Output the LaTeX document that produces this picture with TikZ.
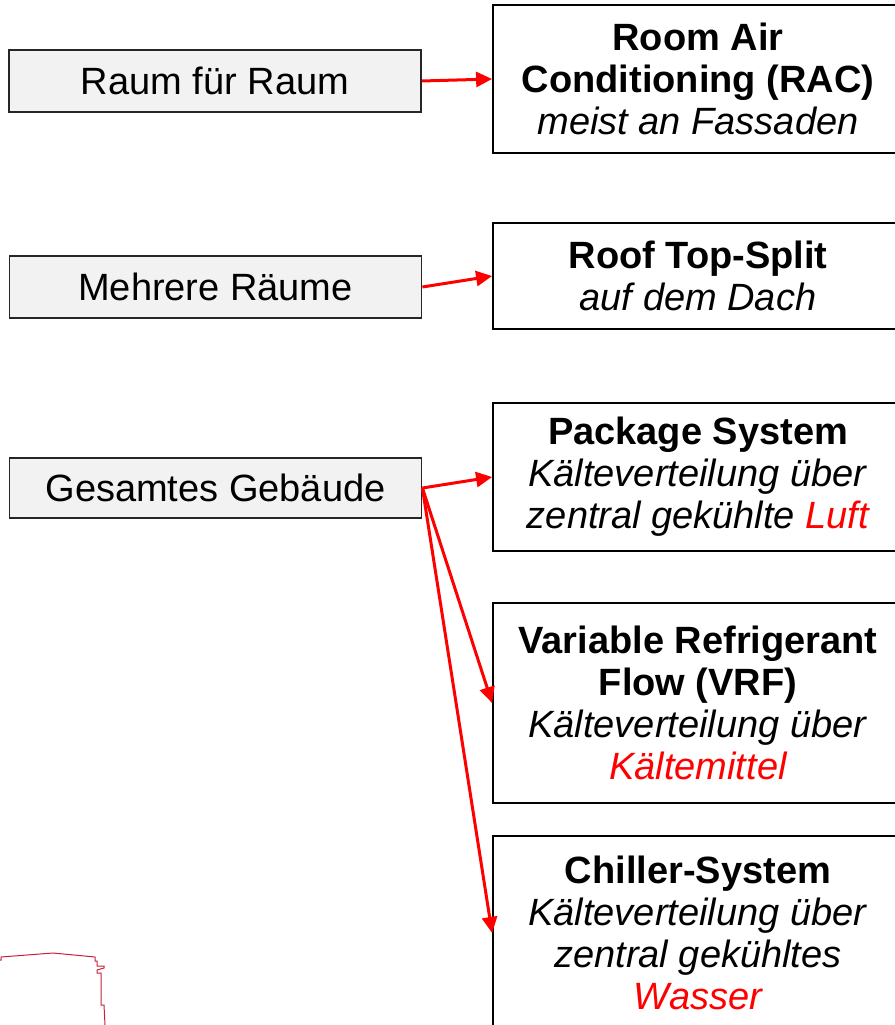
\documentclass[tikz,border=0pt]{standalone}
\usepackage{fontspec}
\setmainfont{Liberation Sans}
\usepackage{xcolor}
\usetikzlibrary{
  positioning,
  arrows.meta
}

\definecolor{boxgray}{HTML}{F2F2F2}
\definecolor{outlinered}{HTML}{C8203A}

\begin{document}
\begin{tikzpicture}[
  x=1pt, y=-1pt,
  font=\fontsize{38}{42}\selectfont,
  areabox/.style={
    draw=black!85,
    line width=1.8pt,
    fill=boxgray,
    minimum width=412pt,
    minimum height=62pt,
    inner sep=0pt,
    align=center
  },
  sysbox/.style={
    draw=black,
    line width=1.8pt,
    fill=white,
    minimum width=410pt,
    inner sep=0pt,
    align=center
  },
  arrow/.style={-{Triangle[length=16pt,width=15pt]}, red, line width=3pt}
]
\useasboundingbox (0,0) rectangle (894,1025);

% Outline (bottom left)
\draw[outlinered, line width=1pt] (0,960) -- (1,960) -- (1,957) -- (53,953) -- (95,957)
  -- (95,961) -- (97,961) -- (97,966) -- (104,966) -- (104,968) -- (97,970)
  -- (97,973) -- (101,973) -- (101,1005) -- (104,1005) -- (105,1025);

% Areas
\node[areabox] (raum) at (215,81) {Raum für Raum};
\node[areabox] (mehrere) at (215.5,287) {Mehrere Räume};
\node[areabox, minimum height=60pt] (gesamt) at (215.5,488) {Gesamtes Gebäude};

% Systems
\node[sysbox, minimum height=148pt] (rac) at (698,79)
  {\textbf{Room Air}\\\textbf{Conditioning (RAC)}\\\textit{meist an Fassaden}};
\node[sysbox, minimum height=106pt] (roof) at (698,276)
  {\textbf{Roof Top-Split}\\\textit{auf dem Dach}};
\node[sysbox, minimum height=148pt] (package) at (698,477)
  {\textbf{Package System}\\\textit{Kälteverteilung über}\\\textit{zentral gekühlte \textcolor{red}{Luft}}};
\node[sysbox, minimum height=200pt] (vrf) at (698,703)
  {\textbf{Variable Refrigerant}\\\textbf{Flow (VRF)}\\\textit{Kälteverteilung über}\\\textit{\textcolor{red}{Kältemittel}}};
\node[sysbox, minimum height=194pt] (chiller) at (698,933)
  {\textbf{Chiller-System}\\\textit{Kälteverteilung über}\\\textit{zentral gekühltes}\\\textit{\textcolor{red}{Wasser}}};

% Arrows
\draw[arrow] (raum.east) -- (rac.west);
\draw[arrow] (mehrere.east) -- (roof.west);

\draw[arrow] (gesamt.east) -- (package.west);
\draw[arrow] (gesamt.east) -- (vrf.west);
\draw[arrow] (gesamt.east) -- (chiller.west);

\end{tikzpicture}
\end{document}
